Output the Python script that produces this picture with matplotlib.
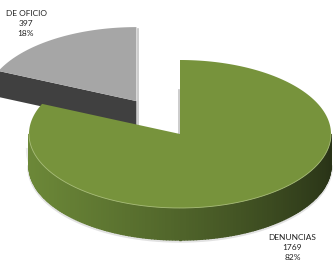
import numpy as np
import matplotlib.pyplot as plt
from matplotlib.patches import Polygon

labels = ['DENUNCIAS', 'DE OFICIO']
values = [1769, 397]
explode = [0.0, 0.53]
top_colors = ['#77933C', '#A6A6A6']
face_colors = ['#4f6329', '#404040']

# pie geometry in pixels (y grows downward)
cx, cy = 180, 134
a, b = 151, 74
depths = [32, 26]
side_left = np.array([0x6c, 0x88, 0x38]) / 255
side_right = np.array([0x29, 0x33, 0x17]) / 255


def ell(t, x0, y0):
    t = np.radians(t)
    return x0 + a * np.cos(t), y0 - b * np.sin(t)


fig = plt.figure(figsize=(3.34, 2.71), dpi=100)
ax = fig.add_axes([0, 0, 1, 1])
ax.set_xlim(0, 334)
ax.set_ylim(271, 0)
ax.axis('off')

total = sum(values)
fracs = np.array(values) / total
starts = 90 - 360 * np.concatenate([[0], np.cumsum(fracs)[:-1]])
ends = starts - 360 * fracs

# draw the far (exploded) slice first, then the big one
for i in [1, 0]:
    t1, t2 = starts[i], ends[i]
    mid = np.radians((t1 + t2) / 2)
    x0 = cx + explode[i] * a * np.cos(mid)
    y0 = cy - explode[i] * b * np.sin(mid)
    d = depths[i]
    ts = np.linspace(t1, t2, 200)
    xs, ys = ell(ts, x0, y0)

    if i == 0:
        # soft shadow under the rim
        tf = np.linspace(-180, 0, 200)
        fx, fy = ell(tf, x0, y0)
        ax.plot(fx, fy + d + 1, color='#cfcfcf', lw=2.5, alpha=0.6, zorder=1)
        ax.plot(fx - 1, fy + d * 0.5, color='#d8d8d8', lw=3, alpha=0.5, zorder=1)
        # front wall with gradient
        tw = np.linspace(-180, 0, 160)
        wx, wy = ell(tw, x0, y0)
        for k in range(len(tw) - 1):
            f = (wx[k] - (x0 - a)) / (2 * a)
            c = side_left * (1 - f) ** 0.8 + side_right * (1 - (1 - f) ** 0.8)
            quad = [(wx[k], wy[k]), (wx[k + 1], wy[k + 1]),
                    (wx[k + 1], wy[k + 1] + d), (wx[k], wy[k] + d)]
            ax.add_patch(Polygon(quad, closed=True, fc=c, ec=c, lw=1.0, zorder=2))
        # edge at 12 o'clock
        ax.plot([x0 - 1.5, x0 - 1.5], [y0 - b * 0.6, y0], color='#c4c4c4', lw=1.2, zorder=1.5)
    else:
        # radial cut face (the edge facing the viewer)
        ex, ey = ell(t1, x0, y0)
        face = [(x0, y0), (ex, ey), (ex, ey + d), (x0, y0 + d)]
        ax.add_patch(Polygon(face, closed=True, fc=face_colors[i], ec='none', zorder=1.2))
        ax.plot([x0 + 1.5, x0 + 1.5], [y0 - b + 2, y0 + d], color='#c4c4c4', lw=1.2, zorder=1.1)

    top = np.column_stack([np.r_[x0, xs], np.r_[y0, ys]])
    ax.add_patch(Polygon(top, closed=True, fc=top_colors[i], ec='none', zorder=3 if i == 0 else 1.3))
    if i == 0:
        tf = np.linspace(-180, 0, 200)
        fx, fy = ell(tf, x0, y0)
        ax.plot(fx, fy, color='#a9bd7a', lw=0.6, zorder=3.5)

label_pos = [(26, 24), (292.5, 247)][::-1]
for i in range(len(values)):
    txt = '%s\n%d\n%d%%' % (labels[i], values[i], round(fracs[i] * 100))
    ax.text(label_pos[i][0], label_pos[i][1], txt, ha='center', va='center',
            fontsize=6.0, family=['Lato', 'DejaVu Sans'], color='#222222',
            linespacing=1.5, zorder=5)

fig.savefig('out.png', dpi=100)
